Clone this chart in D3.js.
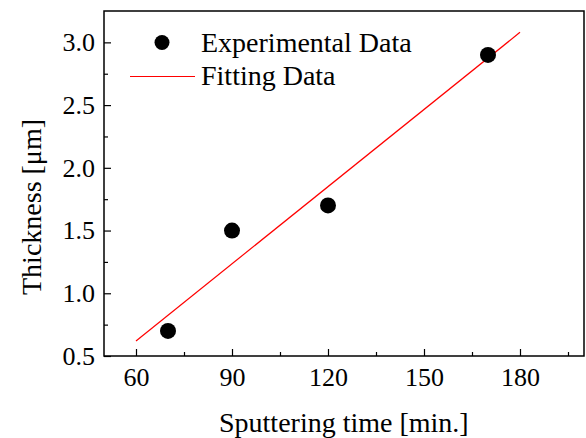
<!DOCTYPE html>
<html>
<head>
<meta charset="utf-8">
<script src="https://cdn.jsdelivr.net/npm/d3@7"></script>
<style>
	body { margin: 0; background: #fff; }
	svg text { font-family: "Liberation Serif", "Times New Roman", Times, serif; }
</style>
</head>
<body>
<svg id="chart" width="586" height="438"></svg>
<script>
// measured points
const sputterTime = [70, 90, 120, 170];
const thickness = [0.7, 1.5, 1.7, 2.9];

// fitted line endpoints
const fitTime = [60, 180];
const fitThickness = [0.62, 3.08];

const xTicks = [60, 90, 120, 150, 180];
const yTicks = [0.5, 1.0, 1.5, 2.0, 2.5, 3.0];

const svg = d3.select('#chart');
const margin = { left: 104, top: 11, right: 2, bottom: 82 };
const width = 586 - margin.left - margin.right;
const height = 438 - margin.top - margin.bottom;

const x = d3.scaleLinear().domain([50, 200]).range([0, width]);
const y = d3.scaleLinear().domain([0.5, 3.25]).range([height, 0]);

const g = svg.append('g').attr('transform', `translate(${margin.left},${margin.top})`);

// frame
g.append('rect')
	.attr('width', width)
	.attr('height', height)
	.style('fill', 'none')
	.style('stroke', '#000')
	.style('stroke-width', 1.5);

// minor ticks
const xMinor = d3.range(75, 200, 30);
g.append('g')
	.attr('transform', `translate(0,${height})`)
	.call(d3.axisBottom(x).tickValues(xMinor).tickSizeInner(-4).tickSizeOuter(0).tickFormat(''))
	.call((a) => a.select('.domain').remove());
const yMinor = d3.range(0.75, 3.25, 0.5);
g.append('g')
	.call(d3.axisLeft(y).tickValues(yMinor).tickSizeInner(-4).tickSizeOuter(0).tickFormat(''))
	.call((a) => a.select('.domain').remove());

// major ticks
const xAxis = g.append('g')
	.attr('transform', `translate(0,${height})`)
	.call(d3.axisBottom(x).tickValues(xTicks).tickSizeInner(-7).tickSizeOuter(0).tickPadding(12));
xAxis.select('.domain').remove();

const yAxis = g.append('g')
	.call(d3.axisLeft(y).tickValues(yTicks).tickSizeInner(-7).tickSizeOuter(0).tickPadding(9).tickFormat(d3.format('.1f')));
yAxis.select('.domain').remove();

svg.selectAll('.tick text').style('font-size', '26px').attr('fill', '#000');
svg.selectAll('.tick line').style('stroke', '#000').style('stroke-width', 1.2);

// fit line
const fit = fitTime.map((t, i) => [t, fitThickness[i]]);
g.append('path')
	.datum(fit)
	.attr('d', d3.line().x((d) => x(d[0])).y((d) => y(d[1])))
	.style('fill', 'none')
	.style('stroke', '#ff0000')
	.style('stroke-width', 1.2);

// points
g.selectAll('circle.pt')
	.data(sputterTime.map((t, i) => [t, thickness[i]]))
	.enter()
	.append('circle')
	.attr('class', 'pt')
	.attr('cx', (d) => x(d[0]))
	.attr('cy', (d) => y(d[1]))
	.attr('r', 8)
	.style('fill', '#000');

// legend
const legend = svg.append('g');
legend.append('circle').attr('cx', 162).attr('cy', 42.5).attr('r', 7.5).style('fill', '#000');
legend.append('text').attr('x', 201).attr('y', 51.5).text('Experimental Data').style('font-size', '28px');
legend.append('line').attr('x1', 130).attr('x2', 195).attr('y1', 76.5).attr('y2', 76.5)
	.style('stroke', '#ff0000').style('stroke-width', 1.2);
legend.append('text').attr('x', 201).attr('y', 85).text('Fitting Data').style('font-size', '28px');

// axis titles
svg.append('text')
	.attr('x', 219)
	.attr('y', 432)
	.style('font-size', '28px')
	.text('Sputtering time [min.]');

svg.append('text')
	.attr('transform', 'translate(41,207) rotate(-90)')
	.attr('text-anchor', 'middle')
	.style('font-size', '28px')
	.text('Thickness [μm]');
</script>
</body>
</html>
